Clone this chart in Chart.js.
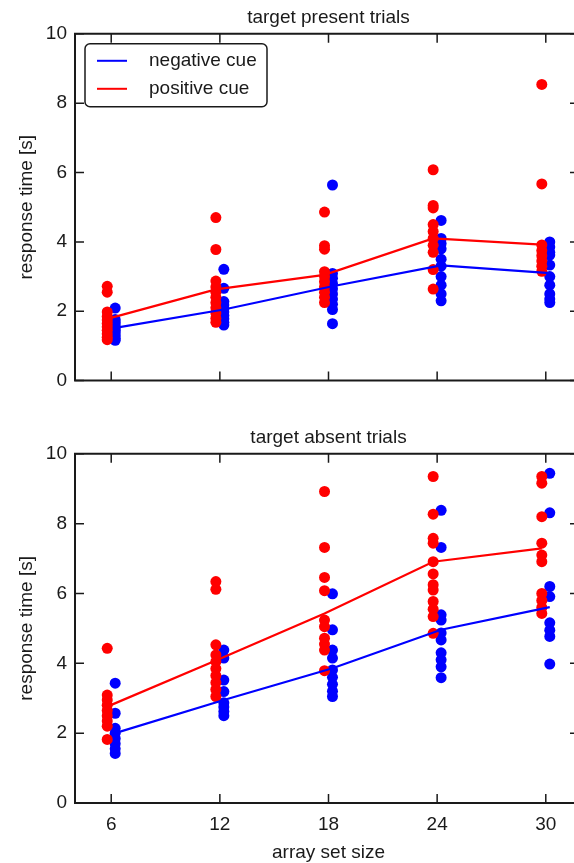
<!DOCTYPE html>
<html lang="en">
<head>
<meta charset="UTF-8" />
<title>Response time by array set size</title>
<script src="https://cdn.jsdelivr.net/npm/chart.js"></script>
<style>
  html, body { margin: 0; background: #fff; overflow: hidden; }
  .wrap { position: relative; width: 574px; height: 863px; overflow: hidden; }
  canvas { position: absolute; left: 0; }
  #presentChart { top: 0; }
  #absentChart { top: 420px; }
</style>
</head>
<body>
<div class="wrap">
  <canvas id="presentChart" width="600" height="400" style="width:600px;height:400px"></canvas>
  <canvas id="absentChart" width="600" height="443" style="width:600px;height:443px"></canvas>
</div>
<script>
// set sizes on the x axis, response time ticks on y
const setSizes = [6, 12, 18, 24, 30];
const yTicks = [0, 2, 4, 6, 8, 10];

// target present: one list of subject values per set size
const presentNeg = [
  [2.09, 1.76, 1.68, 1.6, 1.52, 1.45, 1.38, 1.3, 1.22, 1.16],
  [3.21, 2.66, 2.28, 2.18, 2.08, 1.98, 1.88, 1.78, 1.68, 1.6],
  [5.64, 3.09, 2.95, 2.8, 2.65, 2.5, 2.35, 2.2, 2.05, 1.64],
  [4.62, 4.1, 3.95, 3.8, 3.5, 3.3, 3.0, 2.75, 2.5, 2.3],
  [4.0, 3.85, 3.7, 3.62, 3.33, 3.0, 2.75, 2.5, 2.35, 2.25]
];
const presentPos = [
  [2.72, 2.55, 1.98, 1.85, 1.75, 1.65, 1.55, 1.45, 1.35, 1.25, 1.18],
  [4.7, 3.78, 2.87, 2.7, 2.55, 2.4, 2.25, 2.1, 1.95, 1.8, 1.68],
  [4.86, 3.89, 3.79, 3.14, 3.0, 2.85, 2.7, 2.55, 2.4, 2.25],
  [6.08, 5.05, 4.98, 4.5, 4.3, 4.1, 3.9, 3.7, 3.2, 2.64],
  [8.54, 5.67, 3.91, 3.75, 3.6, 3.45, 3.3, 3.15]
];
const presentNegMean = [1.52, 2.05, 2.72, 3.32, 3.1];
const presentPosMean = [1.78, 2.63, 3.05, 4.1, 3.92];

// target absent
const absentNeg = [
  [3.43, 2.57, 2.14, 2.0, 1.85, 1.7, 1.55, 1.42],
  [4.38, 4.15, 3.52, 3.19, 2.87, 2.75, 2.62, 2.5],
  [5.99, 4.96, 4.38, 4.15, 3.81, 3.6, 3.4, 3.2, 3.05],
  [8.38, 7.32, 5.39, 5.24, 4.87, 4.67, 4.3, 4.1, 3.9, 3.59],
  [9.44, 8.31, 6.2, 5.91, 5.16, 4.95, 4.77, 3.98]
];
const absentPos = [
  [4.43, 3.09, 2.95, 2.8, 2.65, 2.5, 2.35, 2.2, 1.82],
  [6.34, 6.12, 4.53, 4.24, 4.05, 3.85, 3.65, 3.45, 3.25, 3.05],
  [8.92, 7.32, 6.46, 6.08, 5.24, 5.05, 4.72, 4.55, 4.38, 3.79],
  [9.35, 8.27, 7.58, 7.44, 6.91, 6.56, 6.25, 6.1, 5.77, 5.55, 5.34, 4.86],
  [9.35, 9.16, 8.2, 7.44, 7.1, 6.91, 6.0, 5.8, 5.6, 5.43]
];
const absentNegMean = [2.0, 2.95, 3.86, 4.96, 5.61];
const absentPosMean = [2.76, 4.08, 5.43, 6.91, 7.29];

const ink = "#1a1a1a";
const blue = "#0000ff";
const red = "#ff0000";
const shift = 0.22; // red sits just left of each size, blue just right

Chart.defaults.font.family = '"Liberation Sans", Arial, sans-serif';
Chart.defaults.color = ink;

function points(groups, dx) {
  return setSizes.flatMap((s, i) => groups[i].map(v => ({ x: s + dx, y: v })));
}
function meanLine(means, dx) {
  return setSizes.map((s, i) => ({ x: s + dx, y: means[i] }));
}

// matplotlib-ish box with inward ticks on all sides
const frame = {
  id: "frame",
  afterDatasetsDraw(chart) {
    const { ctx, chartArea: a, scales: { x, y } } = chart;
    ctx.save();
    ctx.strokeStyle = ink;
    ctx.lineWidth = 1.5;
    ctx.beginPath();
    setSizes.forEach(v => {
      const px = x.getPixelForValue(v);
      ctx.moveTo(px, a.bottom); ctx.lineTo(px, a.bottom - 9);
      ctx.moveTo(px, a.top); ctx.lineTo(px, a.top + 9);
    });
    yTicks.forEach(v => {
      const py = y.getPixelForValue(v);
      ctx.moveTo(a.left, py); ctx.lineTo(a.left + 9, py);
      ctx.moveTo(a.right, py); ctx.lineTo(a.right - 12, py);
    });
    ctx.stroke();
    // spines: left, top, bottom here; the right one sits past the page edge
    ctx.lineWidth = 2;
    ctx.beginPath();
    ctx.moveTo(a.right, a.top);
    ctx.lineTo(a.left, a.top);
    ctx.lineTo(a.left, a.bottom);
    ctx.lineTo(a.right, a.bottom);
    ctx.stroke();
    ctx.restore();
  }
};

// legend box in the upper left corner of the plot
const cueLegend = {
  id: "cueLegend",
  afterDraw(chart, args, opts) {
    if (!opts.show) return;
    const { ctx, chartArea: a } = chart;
    const items = chart.data.datasets.filter(d => d.showLine);
    const bx = a.left + 10, by = a.top + 10, bw = 182, bh = 63;
    ctx.save();
    ctx.fillStyle = "#fff";
    ctx.strokeStyle = ink;
    ctx.lineWidth = 1.5;
    ctx.beginPath();
    ctx.roundRect(bx, by, bw, bh, 5);
    ctx.fill();
    ctx.stroke();
    ctx.font = '19px "Liberation Sans", Arial, sans-serif';
    ctx.textBaseline = "middle";
    items.forEach((d, i) => {
      const ly = by + 17 + i * 28;
      ctx.strokeStyle = d.borderColor;
      ctx.lineWidth = 2;
      ctx.beginPath();
      ctx.moveTo(bx + 12, ly);
      ctx.lineTo(bx + 42, ly);
      ctx.stroke();
      ctx.fillStyle = ink;
      ctx.fillText(d.label, bx + 64, ly);
    });
    ctx.restore();
  }
};

function createPanel(id, title, neg, pos, negMean, posMean, isBottom) {
  new Chart(document.getElementById(id), {
    type: "scatter",
    data: {
      datasets: [
        { label: "negative cue", data: meanLine(negMean, shift), showLine: true, borderColor: blue, borderWidth: 2.2, pointRadius: 0, order: 1 },
        { label: "positive cue", data: meanLine(posMean, -shift), showLine: true, borderColor: red, borderWidth: 2.2, pointRadius: 0, order: 0 },
        { label: "negative cue subjects", data: points(neg, shift), pointRadius: 5.5, pointBackgroundColor: blue, pointBorderWidth: 0, order: 3 },
        { label: "positive cue subjects", data: points(pos, -shift), pointRadius: 5.5, pointBackgroundColor: red, pointBorderWidth: 0, order: 2 }
      ]
    },
    options: {
      responsive: false,
      animation: false,
      layout: { padding: { left: 0, right: 18, top: 0, bottom: 0 } },
      plugins: {
        legend: { display: false },
        tooltip: { enabled: false },
        title: {
          display: true,
          text: title,
          fullSize: false,
          color: ink,
          font: { size: 19, weight: "normal" },
          padding: { top: 6, bottom: 5 }
        },
        cueLegend: { show: !isBottom }
      },
      scales: {
        x: {
          type: "linear",
          min: 4,
          max: 32,
          grid: { display: false, drawTicks: false },
          border: { display: false },
          afterBuildTicks: s => { s.ticks = setSizes.map(v => ({ value: v })); },
          afterFit: s => { s.height = isBottom ? 60 : 17; },
          ticks: { display: isBottom, padding: 10, color: ink, font: { size: 19 } },
          title: {
            display: isBottom,
            text: "array set size",
            color: ink,
            font: { size: 19 },
            padding: { top: 0, bottom: -1 }
          }
        },
        y: {
          min: 0,
          max: 10,
          grid: { display: false, drawTicks: false },
          border: { display: false },
          afterBuildTicks: s => { s.ticks = yTicks.map(v => ({ value: v })); },
          afterFit: s => { s.width = 75; },
          ticks: { padding: 8, color: ink, font: { size: 19 } },
          title: {
            display: true,
            text: "response time [s]",
            color: ink,
            font: { size: 19 },
            padding: { top: 15, bottom: 0 }
          }
        }
      }
    },
    plugins: [frame, cueLegend]
  });
}

createPanel("presentChart", "target present trials", presentNeg, presentPos, presentNegMean, presentPosMean, false);
createPanel("absentChart", "target absent trials", absentNeg, absentPos, absentNegMean, absentPosMean, true);
</script>
</body>
</html>
